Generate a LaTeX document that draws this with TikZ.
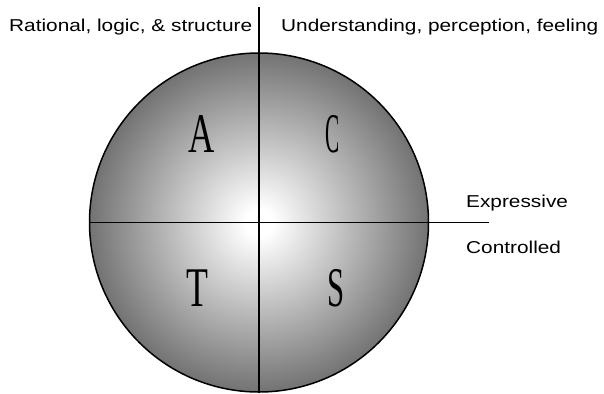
\documentclass[tikz,border=0pt]{standalone}
\usepackage{fontspec}
\setmainfont{Liberation Sans}
\newfontfamily\letterfont{Liberation Serif}
\usepackage{graphicx}
\pgfdeclareradialshading{ballshade}{\pgfpoint{0bp}{0bp}}{color(0bp)=(white); color(2bp)=(white); color(25bp)=(black!55); color(50bp)=(black!55)}
\tikzset{
  axis/.style={draw=black, line width=1.5pt},
  lbl/.style={inner sep=0pt, anchor=base west, font=\fontsize{17.2}{20}\selectfont},
  letter/.style={inner sep=0pt, font=\letterfont\fontsize{56}{60}\selectfont}
}
\newcommand{\wide}[1]{\scalebox{1.21}[1]{#1}}
\begin{document}
\begin{tikzpicture}[x=1pt,y=-1pt]
\useasboundingbox (0,0) rectangle (604,393);
% ball
\node[circle, minimum size=339pt, inner sep=0pt, shading=ballshade, draw=black, line width=1.5pt] (ball) at (259,222.5) {};
% axes
\coordinate (vtop) at (259,7);
\coordinate (vbot) at (259,393);
\coordinate (hright) at (489,222.5);
\draw[axis] (vtop) -- (vbot);
\draw[axis] (ball.west) -- (hright);
% quadrant letters
\node[letter] (A) at (202,134) {\scalebox{0.65}[1]{A}};
\node[letter] (C) at (333,134) {\scalebox{0.38}[1]{C}};
\node[letter] (T) at (197,288) {\scalebox{0.64}[1]{T}};
\node[letter] (S) at (336,288) {\scalebox{0.55}[1]{S}};
% labels
\node[lbl] (rational) at (9,32) {\wide{Rational, logic, \& structure}};
\node[lbl] (understanding) at (281,32) {\wide{Understanding, perception, feeling}};
\node[lbl] (expressive) at (466,207) {\wide{Expressive}};
\node[lbl] (controlled) at (466,253) {\wide{Controlled}};
\end{tikzpicture}
\end{document}
